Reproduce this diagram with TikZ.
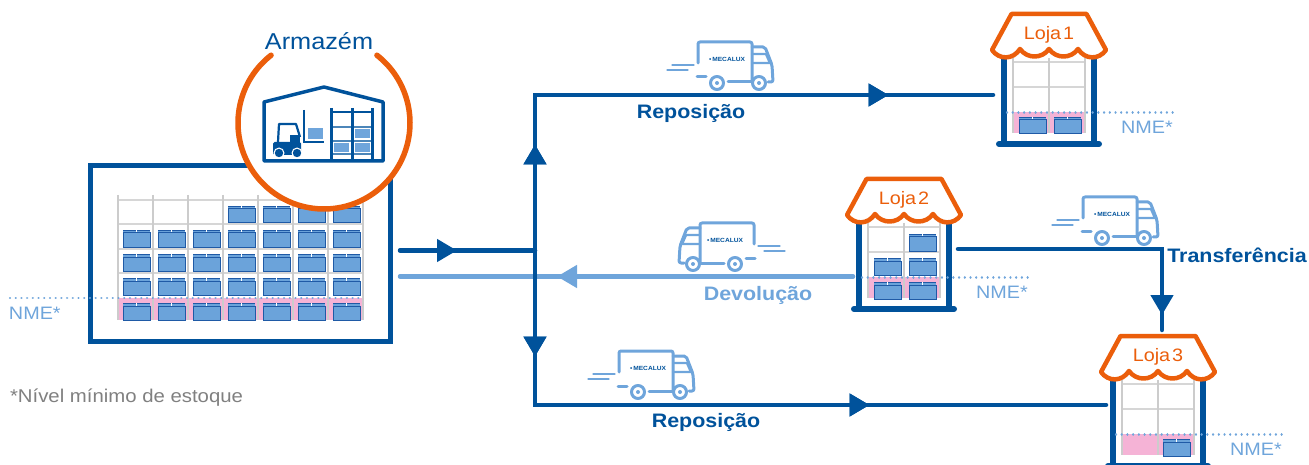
\documentclass[tikz,border=0pt]{standalone}
\usepackage{fontspec}
\setmainfont[FakeStretch=1.1]{Liberation Sans}
\usetikzlibrary{
  arrows.meta,
  decorations.markings
}
\definecolor{deepblue}{HTML}{00529B}
\definecolor{paleblue}{HTML}{6FA5DB}
\definecolor{cratefill}{HTML}{6BA3DA}
\definecolor{crateedge}{HTML}{1F5AA6}
\definecolor{roofcolor}{HTML}{EB5E0B}
\definecolor{pinkzone}{HTML}{F5B3D6}
\definecolor{shelfgray}{HTML}{CCCCCC}
\newcommand{\cratebox}[2]{
  \begin{scope}[shift={(#1,#2)}]
    \fill[cratefill] (0,1) rectangle (27,17);
    \draw[crateedge, line width=1pt] (0,3) rectangle (27,17);
    \draw[crateedge, line width=1.2pt] (0,.6) -- (27,.6);
    \draw[white, line width=.7pt] (13.5,0) -- (13.5,2.5);
  \end{scope}
}
\tikzset{
  flow/.style = {line width=4.5pt, line cap=round, color=deepblue},
  backflow/.style = {flow, color=paleblue},
  tip at/.style = {postaction={decorate}, decoration={markings,
    mark=at position #1 with {\arrow{Triangle[length=20pt,width=22pt]}}}},
  upright/.style = {line width=2.4pt, shelfgray},
  shelf/.style = {line width=1.3pt, shelfgray!80},
  level mark/.style = {line width=2.4pt, paleblue, line cap=round,
    dash pattern=on .01pt off 5.7pt},
  nme/.style = {paleblue, anchor=west, font=\fontsize{18}{20}\selectfont},
  route/.style = {deepblue, font=\fontsize{19.5}{22}\selectfont\bfseries},
  pics/truck/.style = {code={
    \begin{scope}[paleblue, line width=3pt, line cap=round, line join=round]
      \draw[rounded corners=2pt] (0,21) -- (0,0) -- (54,0) -- (54,40);
      \draw (-1,35) -- (8,35) (30,40) -- (54,40);
      \draw[rounded corners=2pt] (54,5) -- (67,5) -- (74,23) -- (75,40) -- (70,40);
      \draw[line width=2.4pt] (54,12) -- (68,12) -- (72,21) -- (54,21);
      \foreach \x in {19,61} {
        \draw[fill=white] (\x,41) circle (6.5pt);
        \fill (\x,41) circle (2pt);
      }
      \draw[line width=1.2pt] (-26,23) -- (-4,23) (-31,28) -- (-10,28);
    \end{scope}
    \node[deepblue, font=\fontsize{6}{6}\selectfont\bfseries] (-logo) at (29,17)
      {\textbullet\,MECALUX};
  }},
  pics/shop/.style 2 args = {code={
    \draw[deepblue, line width=5.5pt] (-45,35) -- (-45,129) (45,35) -- (45,129);
    \draw[deepblue, line width=6pt, line cap=round] (-50,130) -- (50,130);
    \fill[pinkzone] (-36,98) rectangle (36,119);
    \foreach \y in {48,73} \draw[shelf] (-36,\y) -- (36,\y);
    \foreach \x in {-36,0,36} \draw[upright] (\x,44) -- (\x,119);
    \foreach \x/\y in {#2} \cratebox{\x}{\y};
    \draw[level mark] (-42,98.5) -- (124,98.5);
    \draw[roofcolor, fill=white, line width=4.5pt, line join=round]
      (-37.5,0) -- (37.5,0) -- (57,36)
      .. controls (50,46) and (36,46) .. (29,35)
      .. controls (22,45) and (7,45) .. (0,35)
      .. controls (-7,45) and (-22,45) .. (-29,35)
      .. controls (-36,46) and (-50,46) .. (-57,36) -- cycle;
    \node[roofcolor, font=\fontsize{18}{20}\selectfont] (-label) at (0,20.5)
      {\spaceskip=2pt\relax #1};
    \node[nme] (-nme) at (72,113) {NME*};
  }}
}
\begin{document}
\begin{tikzpicture}[x=1pt, y=-1pt,
  every node/.style = {inner sep=0pt, outer sep=0pt}]
  \useasboundingbox (0,0) rectangle (1309,465);

  \coordinate (hub) at (535,250.5);
  \coordinate (storageout) at (400,250.5);
  \coordinate (storagein) at (400,276.5);
  \coordinate (shoponein) at (993,95);
  \coordinate (shoptwoout) at (853,276.5);
  \coordinate (shoptwoside) at (958,249);
  \coordinate (shopthreein) at (1106,405);
  \coordinate (shopthreetop) at (1162,330);

  \draw[backflow, tip at=296pt] (shoptwoout) -- (storagein);
  \draw[flow, tip at=57pt] (storageout) -- (hub);
  \draw[flow, tip at=106pt, tip at=509pt] (hub) |- (shoponein);
  \draw[flow, tip at=106pt, tip at=489pt] (hub) |- (shopthreein);
  \draw[flow, tip at=270pt] (shoptwoside) -| (shopthreetop);

  \node[draw=deepblue, line width=5pt, minimum width=300pt, minimum height=176pt]
    (storage) at (240,253.5) {};
  \fill[pinkzone] (118,298) rectangle (363,320);
  \foreach \y in {200,224,249,273} \draw[shelf] (118,\y) -- (363,\y);
  \foreach \x in {118,153,...,363} \draw[upright] (\x,195) -- (\x,320);
  \foreach \x in {123,158,...,333} {
    \foreach \y in {230,254,278,303} \cratebox{\x}{\y};
  }
  \foreach \x in {228,263,298,333} \cratebox{\x}{206};
  \draw[level mark] (10,298) -- (363,298);
  \node[nme] (nmestorage) at (9,313) {NME*};

  \node[circle, fill=white, minimum size=172pt] (hall) at (324,123) {};
  \draw[roofcolor, line width=5.5pt, line cap=round]
    (hall.128) arc[start angle=128, end angle=412, radius=86pt];
  \node[deepblue, font=\fontsize{23}{25}\selectfont] (hallname) at (319,41) {Armazém};

  \draw[deepblue, line width=3.5pt, line join=round]
    (264,161) -- (264,102) -- (324,87) -- (383,102) -- (383,161) -- cycle;
  \fill[deepblue, rounded corners=1.5pt] (273,142) rectangle (301,155);
  \fill[deepblue] (290,135) rectangle (300,143);
  \draw[deepblue, line width=2.2pt, line join=round]
    (278,142) -- (279,124) -- (296,124) -- (300,137);
  \fill[white] (279,153) circle (5.5pt) (297,153) circle (5.5pt);
  \fill[deepblue] (279,153) circle (4.2pt) (297,153) circle (4.2pt);
  \draw[deepblue, line width=2pt] (304,110) -- (304,142) -- (324,142);
  \fill[paleblue] (308,128) rectangle (323,139);
  \foreach \x/\y in {355/129,334/143,355/143}
    \fill[paleblue] (\x,\y) rectangle +(15,9.5);
  \foreach \y in {127,141,154} \draw[deepblue!70, line width=1.2pt] (331,\y) -- (372,\y);
  \draw[deepblue, line width=2pt] (331,112) -- (372,112);
  \foreach \x in {331,352,372} \draw[deepblue, line width=3pt] (\x,108) -- (\x,161);

  \pic (shopone) at (1049,14) {shop={Loja 1}{-30/103,5/103}};
  \pic (shoptwo) at (904,179) {shop={Loja 2}{-30/103,5/103,-30/79,5/79,5/55}};
  \pic (shopthree) at (1158,336) {shop={Loja 3}{5/103}};

  \pic (truckone) at (698,42) {truck};
  \pic (truckback) [xscale=-1] at (754,223) {truck};
  \pic (trucktwo) at (1083,197) {truck};
  \pic (truckthree) at (619,351) {truck};

  \node[route] (replenishone) at (691,113) {Reposição};
  \node[route] (replenishtwo) at (706,422) {Reposição};
  \node[route, paleblue] (giveback) at (758,295) {Devolução};
  \node[route] (transfer) at (1237,255) {Transferência};
  \node[gray, anchor=west, font=\fontsize{18.5}{20}\selectfont]
    (legend) at (10,398) {*Nível mínimo de estoque};
\end{tikzpicture}
\end{document}
